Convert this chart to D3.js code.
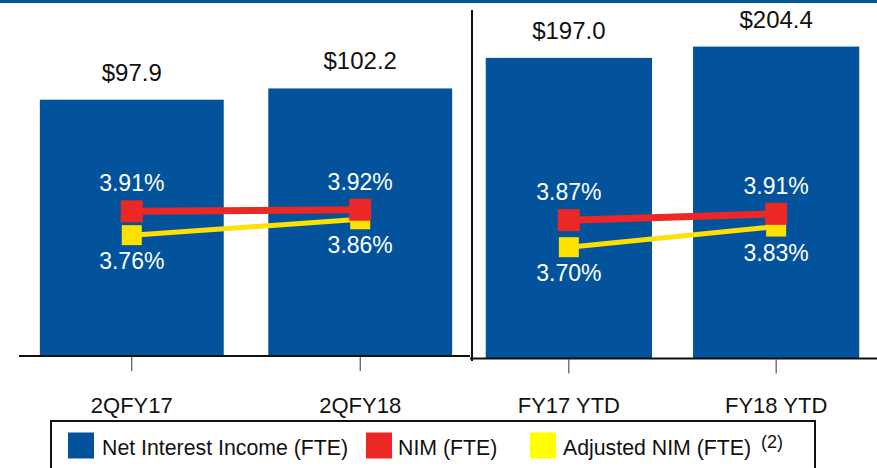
<!DOCTYPE html>
<html>
<head>
<meta charset="utf-8">
<script src="https://cdn.jsdelivr.net/npm/d3@7"></script>
<style>
  html, body { margin: 0; padding: 0; background: #fff; }
  svg { display: block; font-family: "Liberation Sans", Arial, sans-serif; }
</style>
</head>
<body>
<svg id="chart" width="877" height="468"></svg>
<script>
// ---- data ----
const leftCategories = ["2QFY17", "2QFY18"];
const rightCategories = ["FY17 YTD", "FY18 YTD"];
const leftIncome = [97.9, 102.2];
const rightIncome = [197.0, 204.4];
const leftNIM = [3.91, 3.92];
const rightNIM = [3.87, 3.91];
const leftAdjNIM = [3.76, 3.86];
const rightAdjNIM = [3.70, 3.83];
const legendLabels = ["Net Interest Income (FTE)", "NIM (FTE)", "Adjusted NIM (FTE)"];
const legendNote = "(2)";

const BLUE = "#02539c", RED = "#ec2826", YELLOW = "#ffe100", YELLOW_LEG = "#ffff00";

const svg = d3.select("#chart");

// top band
svg.append("rect").attr("x", 0).attr("y", 0).attr("width", 877).attr("height", 3).attr("fill", BLUE);

function panel(cfg) {
  const x = d3.scaleBand().domain(cfg.cats).range(cfg.xr).paddingInner(cfg.pad).paddingOuter(0.1);
  const y = d3.scaleLinear().domain([0, cfg.yMax]).range([cfg.base, cfg.base - cfg.yPx]);
  const p = d3.scaleLinear().domain([3, 4]).range([cfg.base, cfg.base - 159]);
  const g = svg.append("g");

  // bars
  g.selectAll("rect.bar").data(cfg.income).join("rect")
    .attr("class", "bar")
    .attr("x", (d, i) => x(cfg.cats[i]))
    .attr("width", x.bandwidth())
    .attr("y", d => y(d))
    .attr("height", d => y(0) - y(d))
    .attr("fill", BLUE);

  // bar value labels
  g.selectAll("text.val").data(cfg.income).join("text")
    .attr("class", "val")
    .attr("x", (d, i) => x(cfg.cats[i]) + x.bandwidth() / 2)
    .attr("y", d => y(d) - 19)
    .attr("text-anchor", "middle")
    .attr("font-size", 24)
    .attr("fill", "#111")
    .text(d => "$" + d.toFixed(1));

  // axis
  const axis = d3.axisBottom(x).tickSizeInner(14).tickSizeOuter(0);
  const ax = g.append("g").attr("transform", `translate(0,${cfg.base + 1})`).call(axis);
  ax.select(".domain").remove();
  ax.selectAll(".tick line").attr("stroke", "#333").attr("stroke-width", 1);
  ax.selectAll(".tick text")
    .attr("y", 56 - (cfg.base - 356))
    .attr("dy", 0)
    .attr("font-size", 22)
    .attr("font-family", "Liberation Sans, Arial, sans-serif")
    .attr("fill", "#111");

  const cx = (i) => x(cfg.cats[i]) + x.bandwidth() / 2;
  const line = d3.line().x((d, i) => cx(i)).y(d => p(d));

  // adjusted NIM (yellow) first
  g.append("path").datum(cfg.adj).attr("d", line)
    .attr("fill", "none").attr("stroke", YELLOW).attr("stroke-width", 5);
  g.selectAll("rect.ym").data(cfg.adj).join("rect")
    .attr("class", "ym")
    .attr("x", (d, i) => cx(i) - 10).attr("y", d => p(d) - 10)
    .attr("width", 20).attr("height", 20).attr("fill", YELLOW);

  // NIM (red)
  g.append("path").datum(cfg.nim).attr("d", line)
    .attr("fill", "none").attr("stroke", RED).attr("stroke-width", 7);
  g.selectAll("rect.rm").data(cfg.nim).join("rect")
    .attr("class", "rm")
    .attr("x", (d, i) => cx(i) - 11).attr("y", d => p(d) - 11)
    .attr("width", 22).attr("height", 22).attr("fill", RED);

  // percent labels
  g.selectAll("text.nim").data(cfg.nim).join("text")
    .attr("class", "nim")
    .attr("x", (d, i) => cx(i)).attr("y", d => p(d) - 20)
    .attr("text-anchor", "middle").attr("font-size", 23).attr("fill", "#fff")
    .text(d => d.toFixed(2) + "%");
  g.selectAll("text.adj").data(cfg.adj).join("text")
    .attr("class", "adj")
    .attr("x", (d, i) => cx(i)).attr("y", d => p(d) + 34)
    .attr("text-anchor", "middle").attr("font-size", 23).attr("fill", "#fff")
    .text(d => d.toFixed(2) + "%");
}

panel({ cats: leftCategories, xr: [17, 475], pad: 0.195, yMax: 100, yPx: 261.8, base: 356,
        income: leftIncome, nim: leftNIM, adj: leftAdjNIM });
panel({ cats: rightCategories, xr: [465, 880], pad: 0.198, yMax: 200, yPx: 305.2, base: 358.5,
        income: rightIncome, nim: rightNIM, adj: rightAdjNIM });

// baselines and divider
svg.append("line").attr("x1", 19).attr("x2", 470).attr("y1", 356).attr("y2", 356)
  .attr("stroke", "#111").attr("stroke-width", 2);
svg.append("line").attr("x1", 470).attr("x2", 877).attr("y1", 358.5).attr("y2", 358.5)
  .attr("stroke", "#111").attr("stroke-width", 2);
svg.append("line").attr("x1", 472).attr("x2", 472).attr("y1", 10).attr("y2", 361)
  .attr("stroke", "#111").attr("stroke-width", 2);

// legend
const leg = svg.append("g");
leg.append("rect").attr("x", 51).attr("y", 421).attr("width", 764).attr("height", 60)
  .attr("fill", "#fff").attr("stroke", "#111").attr("stroke-width", 2);
const legItems = [
  { label: legendLabels[0], color: BLUE, sx: 68, tx: 102 },
  { label: legendLabels[1], color: RED, sx: 366, tx: 398 },
  { label: legendLabels[2], color: YELLOW_LEG, sx: 530, tx: 563 }
];
legItems.forEach(it => {
  leg.append("rect").attr("x", it.sx).attr("y", 432.5).attr("width", 26).attr("height", 26).attr("fill", it.color);
  leg.append("text").attr("x", it.tx).attr("y", 454.5).attr("font-size", 21.3).attr("fill", "#111").text(it.label);
});
leg.append("text").attr("x", 761).attr("y", 447.5).attr("font-size", 18).attr("fill", "#111").text(legendNote);
</script>
</body>
</html>
